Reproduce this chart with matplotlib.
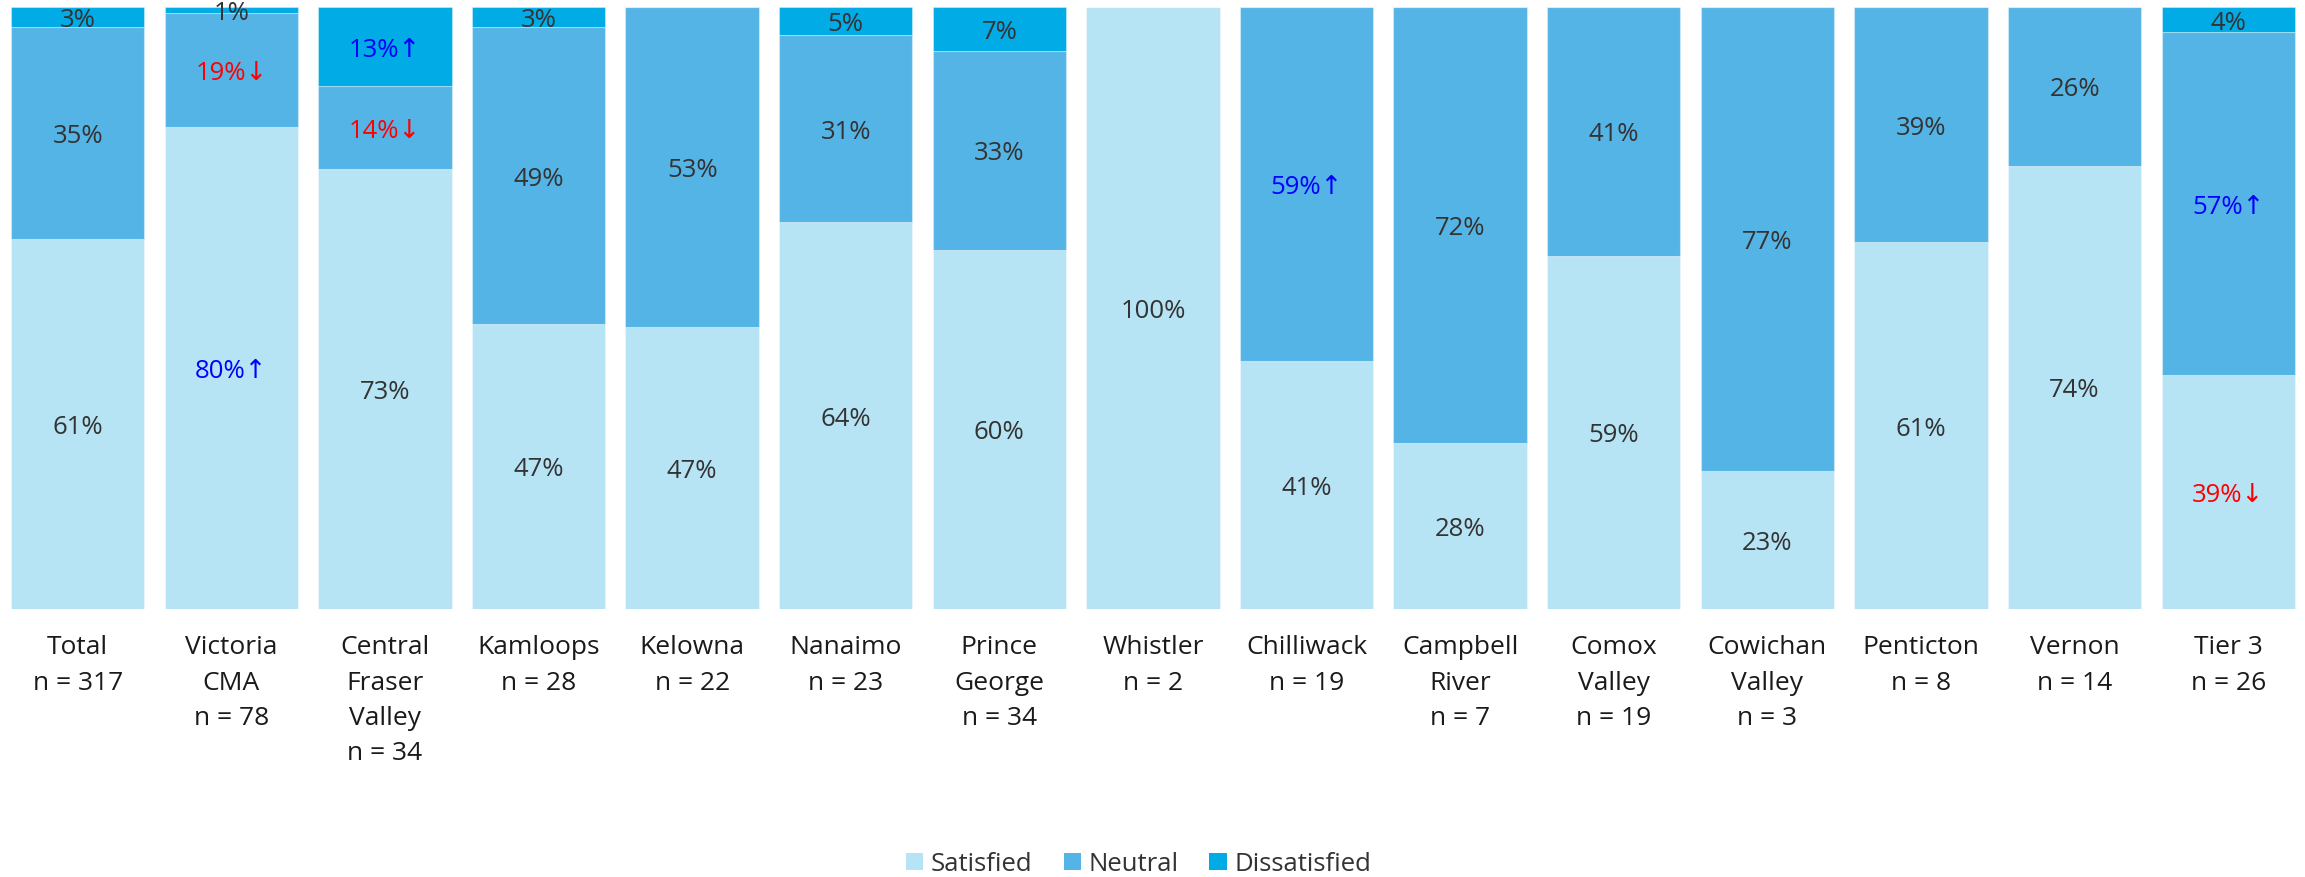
import numpy as np
import matplotlib
matplotlib.use("Agg")
import matplotlib.pyplot as plt
from matplotlib.patches import Patch
from matplotlib.transforms import ScaledTranslation

# --- Data ---
CATEGORIES = ["Total\nn = 317", "Victoria\nCMA\nn = 78", "Central\nFraser\nValley\nn = 34",
              "Kamloops\nn = 28", "Kelowna\nn = 22", "Nanaimo\nn = 23", "Prince\nGeorge\nn = 34",
              "Whistler\nn = 2", "Chilliwack\nn = 19", "Campbell\nRiver\nn = 7",
              "Comox\nValley\nn = 19", "Cowichan\nValley\nn = 3", "Penticton\nn = 8",
              "Vernon\nn = 14", "Tier 3\nn = 26"]

satisfied = [61.4, 80.0, 73.1, 47.4, 46.9, 64.2, 59.7, 100.0, 41.2, 27.6, 58.7, 23.0, 60.9, 73.6, 38.9]
neutral = [35.2, 19.0, 13.7, 49.2, 53.1, 31.2, 33.0, 0.0, 58.8, 72.4, 41.3, 77.0, 39.1, 26.4, 56.9]
dissatisfied = [3.4, 1.0, 13.2, 3.4, 0.0, 4.6, 7.3, 0.0, 0.0, 0.0, 0.0, 0.0, 0.0, 0.0, 4.2]

# significance flags: 1 = significantly higher, -1 = significantly lower
sat_sig = [0, 1, 0, 0, 0, 0, 0, 0, 0, 0, 0, 0, 0, 0, -1]
neu_sig = [0, -1, -1, 0, 0, 0, 0, 0, 1, 0, 0, 0, 0, 0, 1]
dis_sig = [0, 0, 1, 0, 0, 0, 0, 0, 0, 0, 0, 0, 0, 0, 0]

SERIES = ["Satisfied", "Neutral", "Dissatisfied"]
COLORS = ["#b6e4f5", "#55b4e6", "#00abe6"]
TEXT = "#333333"

plt.rcParams["font.family"] = ["Open Sans", "DejaVu Sans"]

fig = plt.figure(figsize=(23.05, 8.77), dpi=100)
ax = fig.add_axes([0.9 / 2305, 0.3056, 1 - 0.9 / 2305, 0.6865])

# labels sit a few pixels below the exact segment centre
lbl_tf = ax.transData + ScaledTranslation(0, -0.035, fig.dpi_scale_trans)

x = np.arange(len(CATEGORIES))
width = 0.868
bottom = np.zeros(len(x))
for vals, sigs, color in zip([satisfied, neutral, dissatisfied],
                             [sat_sig, neu_sig, dis_sig], COLORS):
    vals = np.array(vals)
    ax.bar(x, vals, width, bottom=bottom, color=color,
           edgecolor=(1, 1, 1, 0.35), linewidth=0.8)
    for xi, v, b, s in zip(x, vals, bottom, sigs):
        if v <= 0:
            continue
        label = f"{int(round(v))}%"
        col = TEXT
        if s == 1:
            label += "\u2191"
            col = "#0000ff"
        elif s == -1:
            label += "\u2193"
            col = "#ff0000"
        ax.text(xi, b + v / 2, label, ha="center", va="center",
                fontsize=18.5, color=col, transform=lbl_tf)
    bottom += vals

ax.set_xlim(-0.5, len(x) - 0.5)
ax.set_ylim(0, 100)
ax.set_xticks(x)
ax.set_xticklabels(CATEGORIES, fontsize=19, color="#1a1a1a", linespacing=1.54)
ax.tick_params(axis="x", length=0, pad=19)
ax.set_yticks([])
for sp in ax.spines.values():
    sp.set_visible(False)

handles = [Patch(facecolor=c, edgecolor="none") for c in COLORS]
fig.legend(handles, SERIES, loc="lower center", bbox_to_anchor=(0.494, -0.026),
           ncol=3, frameon=False, fontsize=18.5, handlelength=0.67, handleheight=0.67,
           handletextpad=0.3, columnspacing=1.2, labelcolor=TEXT)

fig.savefig("out.png", dpi=100)
